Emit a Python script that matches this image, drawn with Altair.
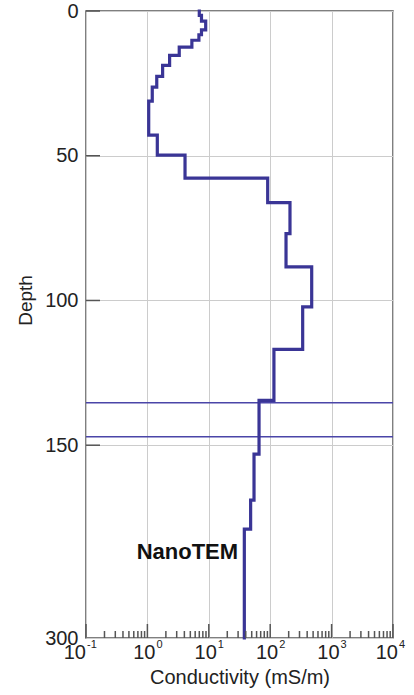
import altair as alt
import pandas as pd

# ---- data ----
layer_tops = [0, 1.5, 3.5, 6.5, 8.2, 10.1, 12.5, 15.3, 18.8, 22.6, 26.3, 31.1,
              42.9, 49.8, 57.7, 66.2, 76.9, 88.4, 102.2, 116.9, 134.5, 153.1, 169.0, 179.0]
layer_cond = [7.0, 7.6, 8.9, 7.6, 6.9, 5.3, 3.3, 2.3, 1.77, 1.42, 1.20, 1.05,
              1.45, 4.1, 91, 210, 181, 474, 338, 115, 65.8, 54.5, 48, 37.9]
depth_max = 216.6

marker_depths = [135.3, 147.1]

y_tick_values = [0, 50, 100, 150, depth_max]
y_tick_labels = ["0", "50", "100", "150", "300"]
y_inner_ticks = [0, 50, 100, 150]

x_exponents = [-1, 0, 1, 2, 3, 4]
x_exp_labels = ["-1", "0", "1", "2", "3", "4"]
x_minor_mult = [2, 3, 4, 5, 6, 7, 8, 9]

annot_text = ["NanoTEM"]
annot_cond = [30]
annot_depth = [187]

# ---- tables ----
rows = []
for i, (top, val) in enumerate(zip(layer_tops, layer_cond)):
    bottom = layer_tops[i + 1] if i + 1 < len(layer_tops) else depth_max
    rows.append({"order": 2 * i, "depth": top, "cond": val})
    rows.append({"order": 2 * i + 1, "depth": bottom, "cond": val})
profile = pd.DataFrame(rows)

major_df = pd.DataFrame({"v": [10.0 ** e for e in x_exponents],
                         "e": x_exp_labels, "k": x_exponents})
minor_df = pd.DataFrame({"v": [m * 10.0 ** e for e in x_exponents[:-1] for m in x_minor_mult]})
ytick_df = pd.DataFrame({"d": y_inner_ticks})
marker_df = pd.DataFrame({"d": marker_depths})
annot_df = pd.DataFrame({"t": annot_text, "c": annot_cond, "d": annot_depth})

W, H = 307, 627
FONT = "Liberation Sans"
FRAME = "#555555"

label_expr = " : ".join(
    f"datum.value == {v} ? '{l}'" for v, l in zip(y_tick_values, y_tick_labels)
) + " : datum.label"

xscale = alt.Scale(type="log", domain=[0.1, 10000], nice=False)
yscale = alt.Scale(domain=[0, depth_max], reverse=True, nice=False, zero=False)

xaxis = alt.Axis(values=[10.0 ** e for e in x_exponents], grid=True, gridColor="#cccccc",
                 gridWidth=1, ticks=False, domain=False, labels=False,
                 title="Conductivity (mS/m)", titleFont=FONT, titleFontSize=20,
                 titleFontWeight="normal", titleColor="#222222",
                 titleY=45, titleBaseline="alphabetic")
yaxis = alt.Axis(values=y_tick_values, grid=True, gridColor="#cccccc", gridWidth=1,
                 ticks=False, domain=False, labelFont=FONT, labelFontSize=20,
                 labelColor="#222222", labelPadding=8, labelExpr=label_expr,
                 title="Depth", titleFont=FONT, titleFontSize=19,
                 titleFontWeight="normal", titleColor="#222222",
                 titleX=-61, titleY=289, titleAngle=270, titleAlign="center",
                 titleBaseline="middle")

base_grid = alt.Chart(profile).mark_line(opacity=0).encode(
    x=alt.X("cond:Q", scale=xscale, axis=xaxis),
    y=alt.Y("depth:Q", scale=yscale, axis=yaxis),
)

markers = alt.Chart(marker_df).mark_rule(color="#4a45a8", strokeWidth=1.5).encode(
    y=alt.Y("d:Q", scale=yscale), x=alt.value(0), x2=alt.value(W))

line = alt.Chart(profile).mark_line(color="#3a3596", strokeWidth=3.2,
                                    strokeJoin="miter", strokeCap="square").encode(
    x=alt.X("cond:Q", scale=xscale),
    y=alt.Y("depth:Q", scale=yscale),
    order=alt.Order("order:Q"),
)

yticks = alt.Chart(ytick_df).mark_rule(color=FRAME, strokeWidth=1.5).encode(
    y=alt.Y("d:Q", scale=yscale), x=alt.value(0), x2=alt.value(14))

major_ticks = alt.Chart(major_df).mark_rule(color=FRAME, strokeWidth=1.5).encode(
    x=alt.X("v:Q", scale=xscale), y=alt.value(H - 14), y2=alt.value(H))
minor_ticks = alt.Chart(minor_df).mark_rule(color=FRAME, strokeWidth=1.5).encode(
    x=alt.X("v:Q", scale=xscale), y=alt.value(H - 7), y2=alt.value(H))

def ten_labels(filt, dx):
    t = alt.Chart(major_df).transform_filter(filt).mark_text(
        text="10", font=FONT, fontSize=20, color="#222222", align="right",
        baseline="alphabetic", dx=dx).encode(
        x=alt.X("v:Q", scale=xscale), y=alt.value(H + 21))
    e = alt.Chart(major_df).transform_filter(filt).mark_text(
        font=FONT, fontSize=11, color="#222222", align="left",
        baseline="alphabetic", dx=dx + 1).encode(
        x=alt.X("v:Q", scale=xscale), y=alt.value(H + 10), text="e:N")
    return [t, e]

xlabels = (ten_labels("datum.k == -1", 0) + ten_labels("datum.k >= 0 && datum.k <= 3", 8)
           + ten_labels("datum.k == 4", 5))

annot = alt.Chart(annot_df).mark_text(font=FONT, fontSize=22, fontWeight="bold",
                                      color="#111111", align="right",
                                      baseline="middle").encode(
    x=alt.X("c:Q", scale=xscale), y=alt.Y("d:Q", scale=yscale), text="t:N")

chart = alt.layer(base_grid, markers, line, yticks, major_ticks, minor_ticks,
                  *xlabels, annot).properties(
    width=W, height=H,
    autosize=alt.AutoSizeParams(type="none"),
    padding={"left": 86, "top": 11, "right": 21, "bottom": 57},
    background="white",
).configure_view(stroke=FRAME, strokeWidth=1.5)

chart.save("out.html", embed_options={"renderer": "svg", "actions": False})
